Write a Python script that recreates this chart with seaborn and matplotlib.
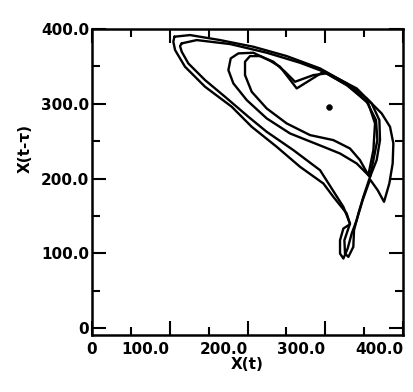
import numpy as np
import pandas as pd
import matplotlib
matplotlib.use("Agg")
import matplotlib.pyplot as plt
from matplotlib.ticker import MultipleLocator
import seaborn as sns

outer_x = [105.9, 126.1, 164.7, 207.5, 250.4, 293.3, 327.6, 353.3, 372.6, 383.3, 387.6, 386.7, 382.4,
           375.6, 367.4, 357.6, 348.1, 340.4, 334.0, 328.8, 323.3, 319.0, 319.0, 323.3, 331.8, 327.6,
           310.4, 297.6, 267.6, 237.5, 205.4, 179.7, 145.4, 119.6, 106.8, 104.6, 105.9]
outer_y = [389.7, 391.9, 385.2, 376.3, 363.8, 347.3, 327.3, 307.2, 287.1, 269.3, 247.0, 220.3, 193.5,
           169.0, 184.6, 198.9, 171.2, 144.5, 126.6, 106.6, 93.2, 99.9, 117.7, 133.3, 139.1, 153.4,
           175.7, 193.5, 215.8, 242.6, 269.3, 296.1, 322.8, 349.6, 371.9, 383.0, 389.7]

second_x = [115.4, 134.6, 177.5, 224.7, 267.5, 301.8, 340.4, 359.7, 369.6, 370.4, 366.1, 357.6, 349.0,
            342.6, 337.0, 336.1, 329.7, 325.4, 324.6, 329.7, 331.8, 323.3, 293.3, 259.0, 224.7, 201.1,
            171.1, 145.4, 123.9, 115.4, 113.2, 115.4]
second_y = [380.8, 385.2, 379.9, 368.3, 354.9, 341.5, 320.6, 300.5, 278.2, 251.5, 224.7, 202.4, 175.7,
            153.4, 131.1, 108.8, 95.4, 99.9, 117.7, 133.3, 140.0, 162.3, 211.3, 238.1, 262.6, 282.7,
            309.4, 331.7, 354.0, 369.6, 377.2, 380.8]

heart_x = [357.6, 340.4, 319.0, 297.6, 276.1, 254.7, 224.7, 199.0, 181.8, 175.4, 178.4, 188.2, 207.5,
           229.0, 241.8, 263.3, 280.4, 297.6, 327.6, 353.3, 365.3, 367.0, 361.9, 357.6]
heart_y = [202.4, 220.3, 233.6, 242.6, 251.5, 260.4, 280.5, 305.0, 327.3, 345.1, 360.7, 367.4, 368.3,
           357.6, 349.6, 320.6, 331.7, 342.9, 325.0, 302.8, 278.2, 251.5, 224.7, 202.4]

inner_x = [355.4, 344.7, 331.8, 310.4, 280.4, 250.4, 224.7, 205.4, 196.8, 196.8, 203.2, 216.1, 233.2,
           248.2, 261.1, 284.7, 301.8, 331.8, 355.4, 364.0, 361.9, 355.4]
inner_y = [204.7, 224.7, 240.3, 251.5, 258.2, 273.8, 293.8, 316.1, 338.4, 356.3, 363.8, 363.8, 356.3,
           342.9, 329.5, 338.4, 340.7, 322.8, 300.5, 273.8, 238.1, 204.7]

fixed_x = [304.8]
fixed_y = [296.0]

xticks = [0, 100, 200, 300, 400]
xlabels = ["0", "100.0", "200.0", "300.0", "400.0"]
yticks = [0, 100, 200, 300, 400]
ylabels = ["0", "100.0", "200.0", "300.0", "400.0"]

frames = []
for name, xs, ys in [("outer", outer_x, outer_y), ("second", second_x, second_y),
                     ("heart", heart_x, heart_y), ("inner", inner_x, inner_y)]:
    frames.append(pd.DataFrame({"x": xs, "y": ys, "strand": name, "step": range(len(xs))}))
df = pd.concat(frames, ignore_index=True)

sns.set_style("ticks")
plt.rcParams["font.family"] = ["DejaVu Sans"]
plt.rcParams["text.color"] = "black"
plt.rcParams["axes.labelcolor"] = "black"
plt.rcParams["xtick.color"] = "black"
plt.rcParams["ytick.color"] = "black"

fig = plt.figure(figsize=(4.13, 3.92), dpi=100)
ax = fig.add_axes([0.2228, 0.1454, 0.7530, 0.7806])

sns.lineplot(data=df, x="x", y="y", units="strand", estimator=None, sort=False,
             color="black", linewidth=1.7, ax=ax)
sns.scatterplot(x=fixed_x, y=fixed_y, color="black", s=18, edgecolor="black", ax=ax)

ax.set_xlim(0, 400)
ax.set_ylim(-9, 400)
ax.set_xticks(xticks)
ax.set_xticklabels(xlabels, fontsize=11, fontweight="bold", color="black")
ax.set_yticks(yticks)
ax.set_yticklabels(ylabels, fontsize=11, fontweight="bold", color="black")
for lab in ax.get_xticklabels()[1:]:
    lab.set_ha("right")
ax.xaxis.set_minor_locator(MultipleLocator(50))
ax.yaxis.set_minor_locator(MultipleLocator(50))
ax.tick_params(which="both", direction="in", top=True, right=True, width=1.5, colors="black")
ax.tick_params(which="major", length=10)
ax.tick_params(which="minor", length=6)
ax.tick_params(axis="x", pad=5)
ax.tick_params(axis="y", pad=2)
for sp in ax.spines.values():
    sp.set_linewidth(1.8)
    sp.set_color("black")

ax.set_xlabel("X(t)", fontsize=11, fontweight="bold", labelpad=0, color="black")
ax.set_ylabel("X(t-τ)", fontsize=11, fontweight="bold", color="black")
ax.yaxis.set_label_coords(-0.19, 0.61)

fig.savefig("out.png", dpi=100)
